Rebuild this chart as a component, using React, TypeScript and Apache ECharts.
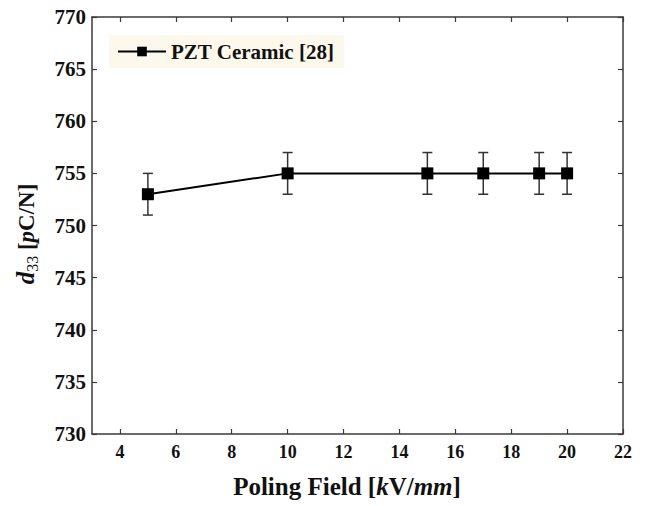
import React, { useEffect, useRef } from "react";
import * as echarts from "echarts";

const fieldKVmm = [5, 10, 15, 17, 19, 20];
const d33Values = [753, 755, 755, 755, 755, 755];
const d33Errors = [2, 2, 2, 2, 2, 2];
const xTickValues = [4, 6, 8, 10, 12, 14, 16, 18, 20, 22];
const seriesName = "PZT Ceramic [28]";

const SERIF = '"Liberation Serif", "Times New Roman", serif';

export default function App() {
  const ref = useRef<HTMLDivElement>(null);
  useEffect(() => {
    if (!ref.current) return;
    const chart = echarts.init(ref.current, null, { renderer: "svg" });
    const frame = "#3a3a3a";
    const commonAxisLine = { show: true, lineStyle: { color: frame, width: 1.5 } };
    const option: any = {
      animation: false,
      backgroundColor: "#ffffff",
      grid: { left: 92, top: 17, right: 23, bottom: 72, containLabel: false },
      legend: {
        data: [seriesName],
        left: 109,
        top: 35,
        padding: [6, 10, 6, 8],
        backgroundColor: "#fdf8ec",
        itemWidth: 48,
        itemHeight: 12,
        itemGap: 6,
        textStyle: { fontFamily: SERIF, fontWeight: "bold", fontSize: 21, color: "#111" },
      },
      xAxis: [
        {
          type: "value",
          min: 3,
          max: 22,
          position: "bottom",
          axisLine: commonAxisLine,
          splitLine: { show: false },
          axisTick: { show: true, inside: true, length: 5, customValues: xTickValues, lineStyle: { color: frame, width: 1.2 } },
          axisLabel: {
            customValues: xTickValues,
            margin: 9,
            fontFamily: SERIF,
            fontWeight: "bold",
            fontSize: 18,
            color: "#111",
          },
        },
        {
          type: "value",
          min: 3,
          max: 22,
          position: "top",
          axisLine: commonAxisLine,
          splitLine: { show: false },
          axisTick: { show: true, inside: true, length: 5, customValues: xTickValues, lineStyle: { color: frame, width: 1.2 } },
          axisLabel: { show: false },
        },
      ],
      yAxis: [
        {
          type: "value",
          min: 730,
          max: 770,
          interval: 5,
          position: "left",
          axisLine: commonAxisLine,
          splitLine: { show: false },
          axisTick: { show: true, inside: true, length: 5, lineStyle: { color: frame, width: 1.2 } },
          axisLabel: {
            margin: 6,
            fontFamily: SERIF,
            fontWeight: "bold",
            fontSize: 21,
            color: "#111",
          },
        },
        {
          type: "value",
          min: 730,
          max: 770,
          interval: 5,
          position: "right",
          axisLine: commonAxisLine,
          splitLine: { show: false },
          axisTick: { show: true, inside: true, length: 5, lineStyle: { color: frame, width: 1.2 } },
          axisLabel: { show: false },
        },
      ],
      series: [
        {
          type: "custom",
          xAxisIndex: 0,
          yAxisIndex: 0,
          z: 1,
          silent: true,
          encode: { x: 0, y: [1, 2] },
          data: fieldKVmm.map((x, i) => [x, d33Values[i] - d33Errors[i], d33Values[i] + d33Errors[i]]),
          renderItem: (params: any, api: any) => {
            const x = api.value(0);
            const lo = api.coord([x, api.value(1)]);
            const hi = api.coord([x, api.value(2)]);
            const w = 5;
            const st = { stroke: "#333", lineWidth: 1.5 };
            return {
              type: "group",
              children: [
                { type: "line", shape: { x1: hi[0], y1: hi[1], x2: lo[0], y2: lo[1] }, style: st },
                { type: "line", shape: { x1: hi[0] - w, y1: hi[1], x2: hi[0] + w, y2: hi[1] }, style: st },
                { type: "line", shape: { x1: lo[0] - w, y1: lo[1], x2: lo[0] + w, y2: lo[1] }, style: st },
              ],
            };
          },
        },
        {
          name: seriesName,
          type: "line",
          xAxisIndex: 0,
          yAxisIndex: 0,
          z: 3,
          data: fieldKVmm.map((x, i) => [x, d33Values[i]]),
          symbol: "rect",
          symbolSize: 12,
          itemStyle: { color: "#000" },
          lineStyle: { color: "#000", width: 2 },
        },
      ],
      graphic: [
        {
          type: "text",
          x: 347,
          y: 486,
          style: {
            text: "{b|Poling Field [}{i|k}{b|V/}{i|mm}{b|]}",
            align: "center",
            verticalAlign: "middle",
            fill: "#111",
            rich: {
              b: { fontFamily: SERIF, fontWeight: "bold", fontSize: 25, fill: "#111" },
              i: { fontFamily: SERIF, fontWeight: "bold", fontStyle: "italic", fontSize: 25, fill: "#111" },
            },
          },
        },
        {
          type: "text",
          x: 25,
          y: 234,
          rotation: Math.PI / 2,
          style: {
            text: "{d|d}{s|33}{b| [}{i|p}{b|C/N]}",
            align: "center",
            verticalAlign: "middle",
            fill: "#111",
            rich: {
              d: { fontFamily: SERIF, fontWeight: "bold", fontStyle: "italic", fontSize: 25, fill: "#111", verticalAlign: "bottom" },
              s: { fontFamily: SERIF, fontSize: 16, fill: "#111", verticalAlign: "bottom", padding: [0, 0, -3, 0] },
              b: { fontFamily: SERIF, fontWeight: "bold", fontSize: 23, fill: "#111", verticalAlign: "bottom" },
              i: { fontFamily: SERIF, fontWeight: "bold", fontStyle: "italic", fontSize: 23, fill: "#111", verticalAlign: "bottom" },
            },
          },
        },
      ],
    };
    chart.setOption(option);
    return () => chart.dispose();
  }, []);
  return (
    <div
      ref={ref}
      style={{ position: "fixed", left: 0, top: 0, width: 646, height: 506, background: "#fff" }}
    />
  );
}
